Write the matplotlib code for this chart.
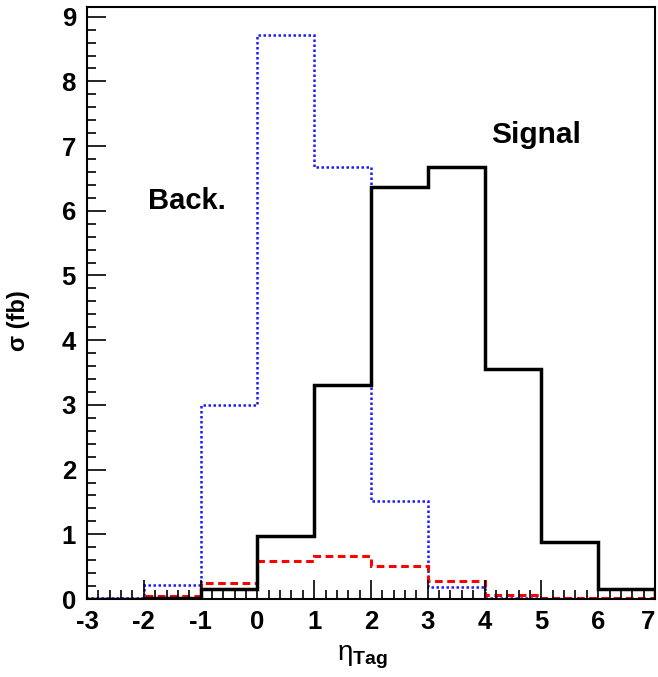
import numpy as np
import matplotlib
matplotlib.use('Agg')
import matplotlib.pyplot as plt
from matplotlib.ticker import MultipleLocator

plt.rcParams['font.family'] = ['Liberation Sans', 'DejaVu Sans']
plt.rcParams['axes.unicode_minus'] = False
plt.rcParams['mathtext.fontset'] = 'custom'
plt.rcParams['mathtext.rm'] = 'Liberation Sans'
plt.rcParams['mathtext.it'] = 'Liberation Sans'
plt.rcParams['mathtext.bf'] = 'Liberation Sans:bold'

# bin edges in eta_Tag
edges = [-3, -2, -1, 0, 1, 2, 3, 4, 5, 6, 7]

# cross sections (fb) per bin
signal = [0.0, 0.02, 0.16, 0.97, 3.30, 6.37, 6.67, 3.56, 0.88, 0.15]
background = [0.02, 0.21, 3.00, 8.72, 6.67, 1.52, 0.18, 0.01, 0.0, 0.0]
red_curve = [0.0, 0.05, 0.25, 0.59, 0.66, 0.51, 0.28, 0.06, 0.02, 0.01]

fig = plt.figure(figsize=(6.58, 6.77), dpi=100)
ax = fig.add_axes([0.1322, 0.1152, 0.8632, 0.8745])

ax.stairs(background, edges, color='#1a1aff', lw=1.8, linestyle=(0, (1, 1)))
ax.stairs(red_curve, edges, color='#ff0000', lw=2.2, linestyle=(0, (2.5, 1.5)))
ax.stairs(signal, edges, color='black', lw=2.5)

ax.set_xlim(-3, 7)
ax.set_ylim(0, 9.15)

ax.xaxis.set_major_locator(MultipleLocator(1))
ax.xaxis.set_minor_locator(MultipleLocator(0.2))
ax.yaxis.set_major_locator(MultipleLocator(1))
ax.yaxis.set_minor_locator(MultipleLocator(0.2))
ax.tick_params(which='both', direction='in', top=False, right=False, width=1.2,
               labelsize=18.5)
ax.tick_params(which='major', length=14, pad=8)
ax.tick_params(which='minor', length=6.5)

for s in ax.spines.values():
    s.set_linewidth(1.5)

ax.text(-1.24, 6.15, 'Back.', fontsize=21, fontweight='bold', ha='center', va='center')
ax.text(4.9, 7.17, 'Signal', fontsize=21.5, fontweight='bold', ha='center', va='center')

ax.set_xlabel(r'$\eta_{\mathbf{Tag}}$', fontsize=20)
ax.xaxis.set_label_coords(0.485, -0.075)
ax.set_ylabel('σ (fb)', fontsize=17, fontweight='bold')
ax.yaxis.set_label_coords(-0.1, 0.47)

fig.canvas.draw()
for tick in ax.xaxis.get_major_ticks() + ax.yaxis.get_major_ticks():
    tick.label1.set_fontweight('bold')
# keep the last x label inside the figure, as in the original
for tick in ax.xaxis.get_major_ticks():
    if abs(tick.get_loc() - 7) < 1e-6:
        tick.label1.set_horizontalalignment('right')

fig.savefig('out.png', dpi=100)
